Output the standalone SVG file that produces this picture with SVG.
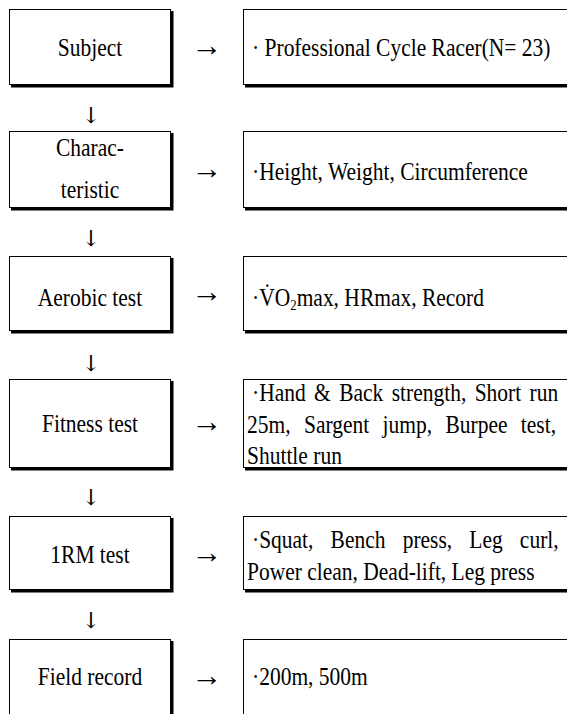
<svg xmlns="http://www.w3.org/2000/svg" width="567" height="714" viewBox="0 0 567 714">
<style>
.box{fill:#fff;stroke:#000;stroke-width:1}
.sh{fill:none;stroke:#000;stroke-width:3}
text{font-family:"Liberation Serif","Times New Roman","DejaVu Serif",serif;font-size:25px;fill:#000}
.c{text-anchor:middle}
.ar{font-size:31px}
.dn{font-family:"DejaVu Serif",serif;font-size:22px}
</style>
<rect width="567" height="714" fill="#fff"/>
<g id="connectors">
<text class="c ar" x="207" y="56">→</text>
<text class="c ar" x="207" y="179">→</text>
<text class="c ar" x="207" y="302">→</text>
<text class="c ar" x="207" y="432">→</text>
<text class="c ar" x="207" y="563">→</text>
<text class="c ar" x="207" y="686">→</text>
<text class="c dn" x="91" y="123">↓</text>
<text class="c dn" x="91" y="246">↓</text>
<text class="c dn" x="91" y="371">↓</text>
<text class="c dn" x="91" y="505">↓</text>
<text class="c dn" x="91" y="628">↓</text>
</g>
<g id="subject">
<rect class="box" x="9.5" y="9.5" width="161" height="75"/>
<path class="sh" d="M172,11V86H11"/>
<text class="c" transform="translate(90,56) scale(.86,1)">Subject</text>
</g>
<g id="subject-detail">
<rect class="box" x="243.5" y="9.5" width="340" height="75"/>
<path class="sh" d="M245,86H580"/>
<text transform="translate(252,56) scale(.86,1)">· Professional Cycle Racer(N= 23)</text>
</g>
<g id="characteristic">
<rect class="box" x="9.5" y="131.5" width="161" height="76"/>
<path class="sh" d="M172,133V209H11"/>
<text class="c" transform="translate(90,156) scale(.86,1)">Charac-</text>
<text class="c" transform="translate(90,198) scale(.86,1)">teristic</text>
</g>
<g id="characteristic-detail">
<rect class="box" x="243.5" y="131.5" width="340" height="76"/>
<path class="sh" d="M245,209H580"/>
<text transform="translate(252,180) scale(.86,1)">·Height, Weight, Circumference</text>
</g>
<g id="aerobic">
<rect class="box" x="9.5" y="256.5" width="161" height="74"/>
<path class="sh" d="M172,258V332H11"/>
<text class="c" transform="translate(90,306) scale(.86,1)">Aerobic test</text>
</g>
<g id="aerobic-detail">
<rect class="box" x="243.5" y="256.5" width="340" height="74"/>
<path class="sh" d="M245,332H580"/>
<text transform="translate(252,306) scale(.86,1)">·V̇O<tspan font-size="15" dy="4">2</tspan><tspan dy="-4">max, HRmax, Record</tspan></text>
</g>
<g id="fitness">
<rect class="box" x="9.5" y="379.5" width="161" height="88"/>
<path class="sh" d="M172,381V469H11"/>
<text class="c" transform="translate(90,432) scale(.86,1)">Fitness test</text>
</g>
<g id="fitness-detail">
<rect class="box" x="243.5" y="379.5" width="340" height="88"/>
<path class="sh" d="M245,469H580"/>
<text transform="translate(252,401) scale(.86,1)" word-spacing="3.5">·Hand &amp; Back strength, Short run</text>
<text transform="translate(247,433) scale(.86,1)" word-spacing="9.3">25m, Sargent jump, Burpee test,</text>
<text transform="translate(247,464) scale(.86,1)">Shuttle run</text>
</g>
<g id="onerm">
<rect class="box" x="9.5" y="516.5" width="161" height="73"/>
<path class="sh" d="M172,518V591H11"/>
<text class="c" transform="translate(90,563) scale(.86,1)">1RM test</text>
</g>
<g id="onerm-detail">
<rect class="box" x="243.5" y="516.5" width="340" height="73"/>
<path class="sh" d="M245,591H580"/>
<text transform="translate(252,548) scale(.86,1)" word-spacing="13.7">·Squat, Bench press, Leg curl,</text>
<text transform="translate(247,580) scale(.86,1)">Power clean, Dead-lift, Leg press</text>
</g>
<g id="field">
<rect class="box" x="9.5" y="639.5" width="161" height="90"/>
<path class="sh" d="M172,641V740"/>
<text class="c" transform="translate(90,685) scale(.86,1)">Field record</text>
</g>
<g id="field-detail">
<rect class="box" x="243.5" y="639.5" width="340" height="90"/>
<text transform="translate(252,685) scale(.86,1)">·200m, 500m</text>
</g>
</svg>
